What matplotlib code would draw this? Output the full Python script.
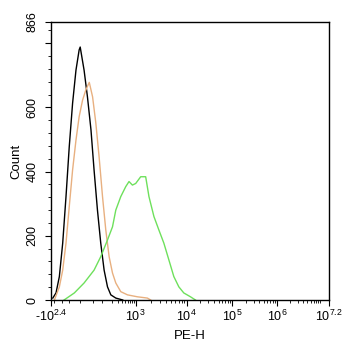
import numpy as np
import matplotlib
matplotlib.use('Agg')
import matplotlib.pyplot as plt
from matplotlib.ticker import FixedLocator, FixedFormatter

plt.rcParams['font.family'] = ['Liberation Sans', 'DejaVu Sans']
plt.rcParams['mathtext.fontset'] = 'custom'
plt.rcParams['mathtext.rm'] = 'Liberation Sans'
plt.rcParams['mathtext.default'] = 'regular'

# PE-H intensity vs count
black_x = [-217, -166, -125, -93, -68, -48, -31, -16, -3, 1, 14, 26, 40, 54, 72, 93, 119, 151, 190, 266, 424]
black_y = [6, 22, 73, 177, 322, 478, 613, 716, 779, 788, 716, 633, 530, 405, 280, 177, 93, 41, 16, 6, 0]

orange_x = [-190, -125, -93, -68, -48, -31, -16, -3, 9, 20, 33, 47, 63, 82, 106, 134, 169, 213, 266, 371, 580, 1080, 1700, 1970]
orange_y = [0, 41, 93, 177, 291, 405, 498, 571, 623, 654, 678, 633, 551, 446, 322, 218, 135, 84, 53, 26, 16, 10, 6, 0]

green_x = [-82, -23, 14, 54, 93, 151, 213, 266, 371, 516, 642, 805, 1000, 1255, 1572, 1825, 2285, 2862, 3585, 4495, 5630, 7060, 8840, 12200, 15650]
green_y = [0, 22, 53, 93, 135, 187, 228, 280, 322, 353, 369, 358, 363, 384, 384, 322, 260, 218, 177, 125, 73, 41, 22, 10, 0]

tick_vals = [-10**2.4, 1e3, 1e4, 1e5, 1e6, 10**7.2]
tick_labels = [r'-$10^{2.4}$', r'$10^{3}$', r'$10^{4}$', r'$10^{5}$', r'$10^{6}$', r'$10^{7.2}$']

# biexponential-like axis: anchor positions of the labelled ticks
anchor_v = np.array([-10**2.4, 0, 1e3, 1e4, 1e5, 1e6, 10**7.2])
anchor_p = np.array([50, 79, 135, 186, 232, 277, 329], dtype=float)
anchor_s = np.arcsinh(anchor_v / 50.0)


def fwd(x):
    return np.interp(np.arcsinh(np.asarray(x, dtype=float) / 50.0), anchor_s, anchor_p)


def inv(p):
    return 50.0 * np.sinh(np.interp(np.asarray(p, dtype=float), anchor_p, anchor_s))


fig = plt.figure(figsize=(3.46, 3.5), dpi=100)
ax = fig.add_axes([51 / 346, 1 - 300 / 350, 278 / 346, 278 / 350])
ax.set_xscale('function', functions=(fwd, inv))

ax.plot(black_x, black_y, color='black', lw=1.0)
ax.plot(orange_x, orange_y, color='#e8b080', lw=1.0)
ax.plot(green_x, green_y, color='#6ee05c', lw=1.0)

ax.set_xlim(-10**2.4, 10**7.2)
ax.set_ylim(0, 866)

ax.xaxis.set_major_locator(FixedLocator(tick_vals))
ax.xaxis.set_major_formatter(FixedFormatter(tick_labels))
minors = [-200, -100, -50, 0, 50, 100, 200, 300, 400, 500, 600, 700, 800, 900]
for d in range(3, 7):
    minors += [m * 10**d for m in range(2, 10)]
minors += [1e7]
ax.xaxis.set_minor_locator(FixedLocator(minors))

ax.yaxis.set_major_locator(FixedLocator([0, 200, 400, 600, 800, 866]))
ax.yaxis.set_major_formatter(FixedFormatter(['0', '200', '400', '600', '', '866']))
ax.yaxis.set_minor_locator(FixedLocator(np.arange(0, 866, 40)))
for lab in ax.get_yticklabels():
    lab.set_rotation(90)
    lab.set_va('center')

ax.tick_params(axis='both', which='major', direction='out', length=4, width=0.8, labelsize=9, pad=2)
ax.tick_params(axis='y', which='major', pad=5)
ax.tick_params(axis='both', which='minor', direction='out', length=2, width=0.6)
for sp in ax.spines.values():
    sp.set_linewidth(1.0)

ax.set_xlabel('PE-H', fontsize=9.5, labelpad=5)
ax.set_ylabel('Count', fontsize=9.5, labelpad=3)

fig.savefig('out.png', dpi=100)
